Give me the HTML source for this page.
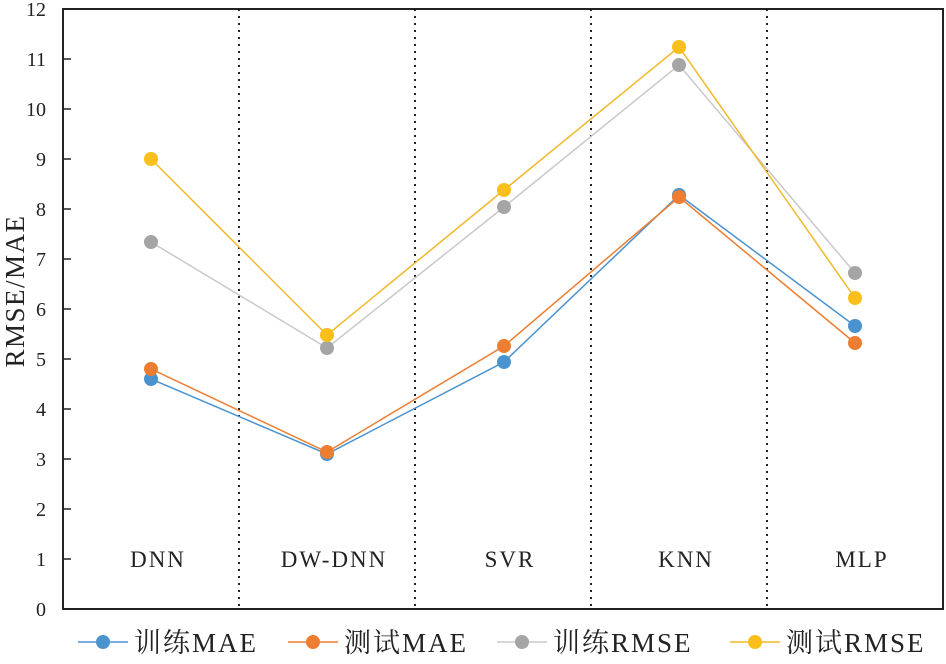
<!DOCTYPE html>
<html><head><meta charset="utf-8"><style>
body{margin:0;background:#fff;}
svg text{font-family:"Liberation Serif","Noto Serif CJK SC",serif;fill:#222;}
</style></head><body>
<svg width="946" height="659" viewBox="0 0 946 659" xmlns="http://www.w3.org/2000/svg">
<rect x="0" y="0" width="946" height="659" fill="#fff"/>
<rect x="63" y="9" width="880" height="600" fill="none" stroke="#222" stroke-width="2"/>
<g stroke="#222" stroke-width="2" stroke-dasharray="2,5">
<line x1="239" y1="9" x2="239" y2="609"/><line x1="415" y1="9" x2="415" y2="609"/>
<line x1="591" y1="9" x2="591" y2="609"/><line x1="767" y1="9" x2="767" y2="609"/>
</g>
<g stroke="#222" stroke-width="1.5">
<line x1="63" y1="559" x2="71" y2="559"/><line x1="63" y1="509" x2="71" y2="509"/><line x1="63" y1="459" x2="71" y2="459"/><line x1="63" y1="409" x2="71" y2="409"/><line x1="63" y1="359" x2="71" y2="359"/><line x1="63" y1="309" x2="71" y2="309"/><line x1="63" y1="259" x2="71" y2="259"/><line x1="63" y1="209" x2="71" y2="209"/><line x1="63" y1="159" x2="71" y2="159"/><line x1="63" y1="109" x2="71" y2="109"/><line x1="63" y1="59" x2="71" y2="59"/>
</g>
<g font-size="20" text-anchor="end">
<text x="46" y="616">0</text><text x="46" y="566">1</text><text x="46" y="516">2</text><text x="46" y="466">3</text><text x="46" y="416">4</text><text x="46" y="366">5</text><text x="46" y="316">6</text><text x="46" y="266">7</text><text x="46" y="216">8</text><text x="46" y="166">9</text><text x="46" y="116">10</text><text x="46" y="66">11</text><text x="46" y="16">12</text>
</g>
<text transform="translate(24,291) rotate(-90)" font-size="27" letter-spacing="1.5" text-anchor="middle">RMSE/MAE</text>
<g font-size="23" letter-spacing="2" text-anchor="middle">
<text x="158" y="567">DNN</text><text x="334" y="567">DW-DNN</text><text x="510" y="567">SVR</text><text x="686" y="567">KNN</text><text x="862" y="567">MLP</text>
</g>
<g fill="none" stroke-width="1.5">
<polyline stroke="#c9c9c9" points="151,242 327,348 504,207 679,65 855,273"/>
<polyline stroke="#f2b829" points="151,159 327,335 504,190 679,47 855,298"/>
<polyline stroke="#4b93cf" points="151,379 327,454 504,362 679,195 855,326"/>
<polyline stroke="#ed7d31" points="151,369 327,452 504,346 679,197 855,343"/>
</g>
<g fill="#a5a5a5"><circle cx="151" cy="242" r="7"/><circle cx="327" cy="348" r="7"/><circle cx="504" cy="207" r="7"/><circle cx="679" cy="65" r="7"/><circle cx="855" cy="273" r="7"/></g>
<g fill="#fbbf1b"><circle cx="151" cy="159" r="7"/><circle cx="327" cy="335" r="7"/><circle cx="504" cy="190" r="7"/><circle cx="679" cy="47" r="7"/><circle cx="855" cy="298" r="7"/></g>
<g fill="#4b93cf"><circle cx="151" cy="379" r="7"/><circle cx="327" cy="454" r="7"/><circle cx="504" cy="362" r="7"/><circle cx="679" cy="195" r="7"/><circle cx="855" cy="326" r="7"/></g>
<g fill="#ed7d31"><circle cx="151" cy="369" r="7"/><circle cx="327" cy="452" r="7"/><circle cx="504" cy="346" r="7"/><circle cx="679" cy="197" r="7"/><circle cx="855" cy="343" r="7"/></g>
<g font-size="27" letter-spacing="2">
<line x1="78" y1="642" x2="128" y2="642" stroke="#4b93cf" stroke-width="1.5"/><circle cx="103" cy="642" r="7" fill="#4b93cf"/><text x="134" y="652">训练MAE</text>
<line x1="288" y1="642" x2="338" y2="642" stroke="#ed7d31" stroke-width="1.5"/><circle cx="313" cy="642" r="7" fill="#ed7d31"/><text x="344" y="652">测试MAE</text>
<line x1="497" y1="642" x2="547" y2="642" stroke="#c9c9c9" stroke-width="1.5"/><circle cx="522" cy="642" r="7" fill="#a5a5a5"/><text x="553" y="652">训练RMSE</text>
<line x1="730" y1="642" x2="780" y2="642" stroke="#f2b829" stroke-width="1.5"/><circle cx="755" cy="642" r="7" fill="#fbbf1b"/><text x="786" y="652">测试RMSE</text>
</g>
</svg>
</body></html>
